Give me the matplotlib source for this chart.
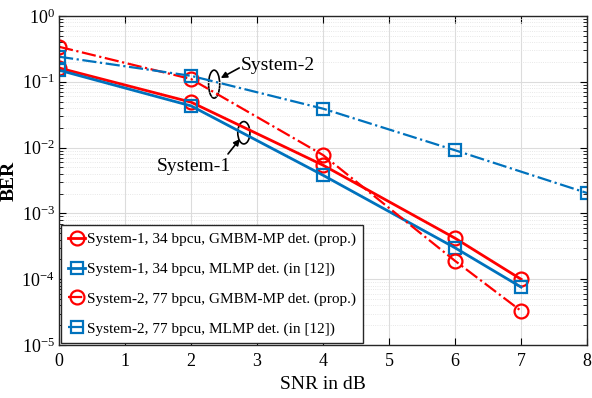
import matplotlib
matplotlib.use("Agg")
import matplotlib.pyplot as plt
from matplotlib.patches import Ellipse
import numpy as np

plt.rcParams["font.family"] = ["Liberation Serif", "DejaVu Serif"]
plt.rcParams["mathtext.fontset"] = "stix"

RED = "#ff0000"
BLUE = "#0072bd"

snr_s1 = [0, 2, 4, 6, 7]
ber_s1_gmbm = [0.162, 0.049, 0.0054, 4.2e-4, 1.0e-4]
ber_s1_mlmp = [0.150, 0.043, 0.0038, 3.0e-4, 7.6e-5]
snr_s2_gmbm = [0, 2, 4, 6, 7]
ber_s2_gmbm = [0.34, 0.11, 0.0077, 1.9e-4, 3.3e-5]
snr_s2_mlmp = [0, 2, 4, 6, 8]
ber_s2_mlmp = [0.24, 0.123, 0.039, 0.0091, 0.00204]

labels = [
    "System-1, 34 bpcu, GMBM-MP det. (prop.)",
    "System-1, 34 bpcu, MLMP det. (in [12])",
    "System-2, 77 bpcu, GMBM-MP det. (prop.)",
    "System-2, 77 bpcu, MLMP det. (in [12])",
]

fig = plt.figure(figsize=(5.92, 3.98), dpi=100)
ax = fig.add_axes([0.0997, 0.133, 0.892, 0.827])

ax.semilogy(snr_s1, ber_s1_gmbm, "-", color=RED, lw=2, marker="o", ms=10,
            mfc="none", mew=1.6, label=labels[0])
ax.semilogy(snr_s1, ber_s1_mlmp, "-", color=BLUE, lw=2, marker="s", ms=8,
            mfc="none", mew=1.6, label=labels[1])
ax.semilogy(snr_s2_gmbm, ber_s2_gmbm, "-.", color=RED, lw=1.6, marker="o", ms=10,
            mfc="none", mew=1.6, label=labels[2])
ax.semilogy(snr_s2_mlmp, ber_s2_mlmp, "-.", color=BLUE, lw=1.6, marker="s", ms=8,
            mfc="none", mew=1.6, label=labels[3])

ax.set_xlim(0, 8)
ax.set_ylim(1e-5, 1)
ax.set_xticks(range(9))
ax.set_yticks([1e-5, 1e-4, 1e-3, 1e-2, 1e-1, 1])
ax.grid(True, which="major", color="#dcdcdc", lw=0.8)
ax.grid(True, which="minor", color="#e0e0e0", lw=0.6, ls=":")
ax.tick_params(which="both", direction="in", top=True, right=True, labelsize=13)
ax.tick_params(which="major", length=5)
ax.tick_params(which="minor", length=3)
ax.tick_params(axis="x", which="major", pad=6)
ax.tick_params(axis="y", which="major", pad=3)
for s in ax.spines.values():
    s.set_linewidth(1.0)
    s.set_color("#262626")

ax.set_xlabel("SNR in dB", fontsize=14, labelpad=4)
ax.set_ylabel("BER", fontsize=14, fontweight="bold")
ax.yaxis.set_label_coords(-0.078, 0.5)


def to_axes(x, y):
    return ax.transAxes.inverted().transform(ax.transData.transform((x, y)))


arrow = dict(arrowstyle="-|>", color="black", lw=1.2, mutation_scale=9,
             shrinkA=0, shrinkB=0)

# System-2 marker
ax.add_patch(Ellipse(to_axes(2.35, 0.092), 0.021, 0.085, transform=ax.transAxes,
                     fill=False, ec="black", lw=1.2))
ax.annotate("", xy=(2.45, 0.114), xytext=(2.73, 0.162), arrowprops=arrow)
ax.text(2.75, 0.175, "System-2", fontsize=14, va="center", ha="left")

# System-1 marker
ax.add_patch(Ellipse(to_axes(2.8, 0.0168), 0.023, 0.068, transform=ax.transAxes,
                     fill=False, ec="black", lw=1.2))
ax.annotate("", xy=(2.74, 0.0135), xytext=(2.56, 0.0080), arrowprops=arrow)
ax.text(2.05, 0.0051, "System-1", fontsize=14, va="center", ha="center")

leg = ax.legend(loc="lower left", fontsize=11, handlelength=1.1, handletextpad=0.15,
                borderpad=0.45, labelspacing=1.05, borderaxespad=0.15,
                fancybox=False, framealpha=1, edgecolor="#262626")
leg.get_frame().set_linewidth(1.0)

fig.savefig("out.png", dpi=100)
